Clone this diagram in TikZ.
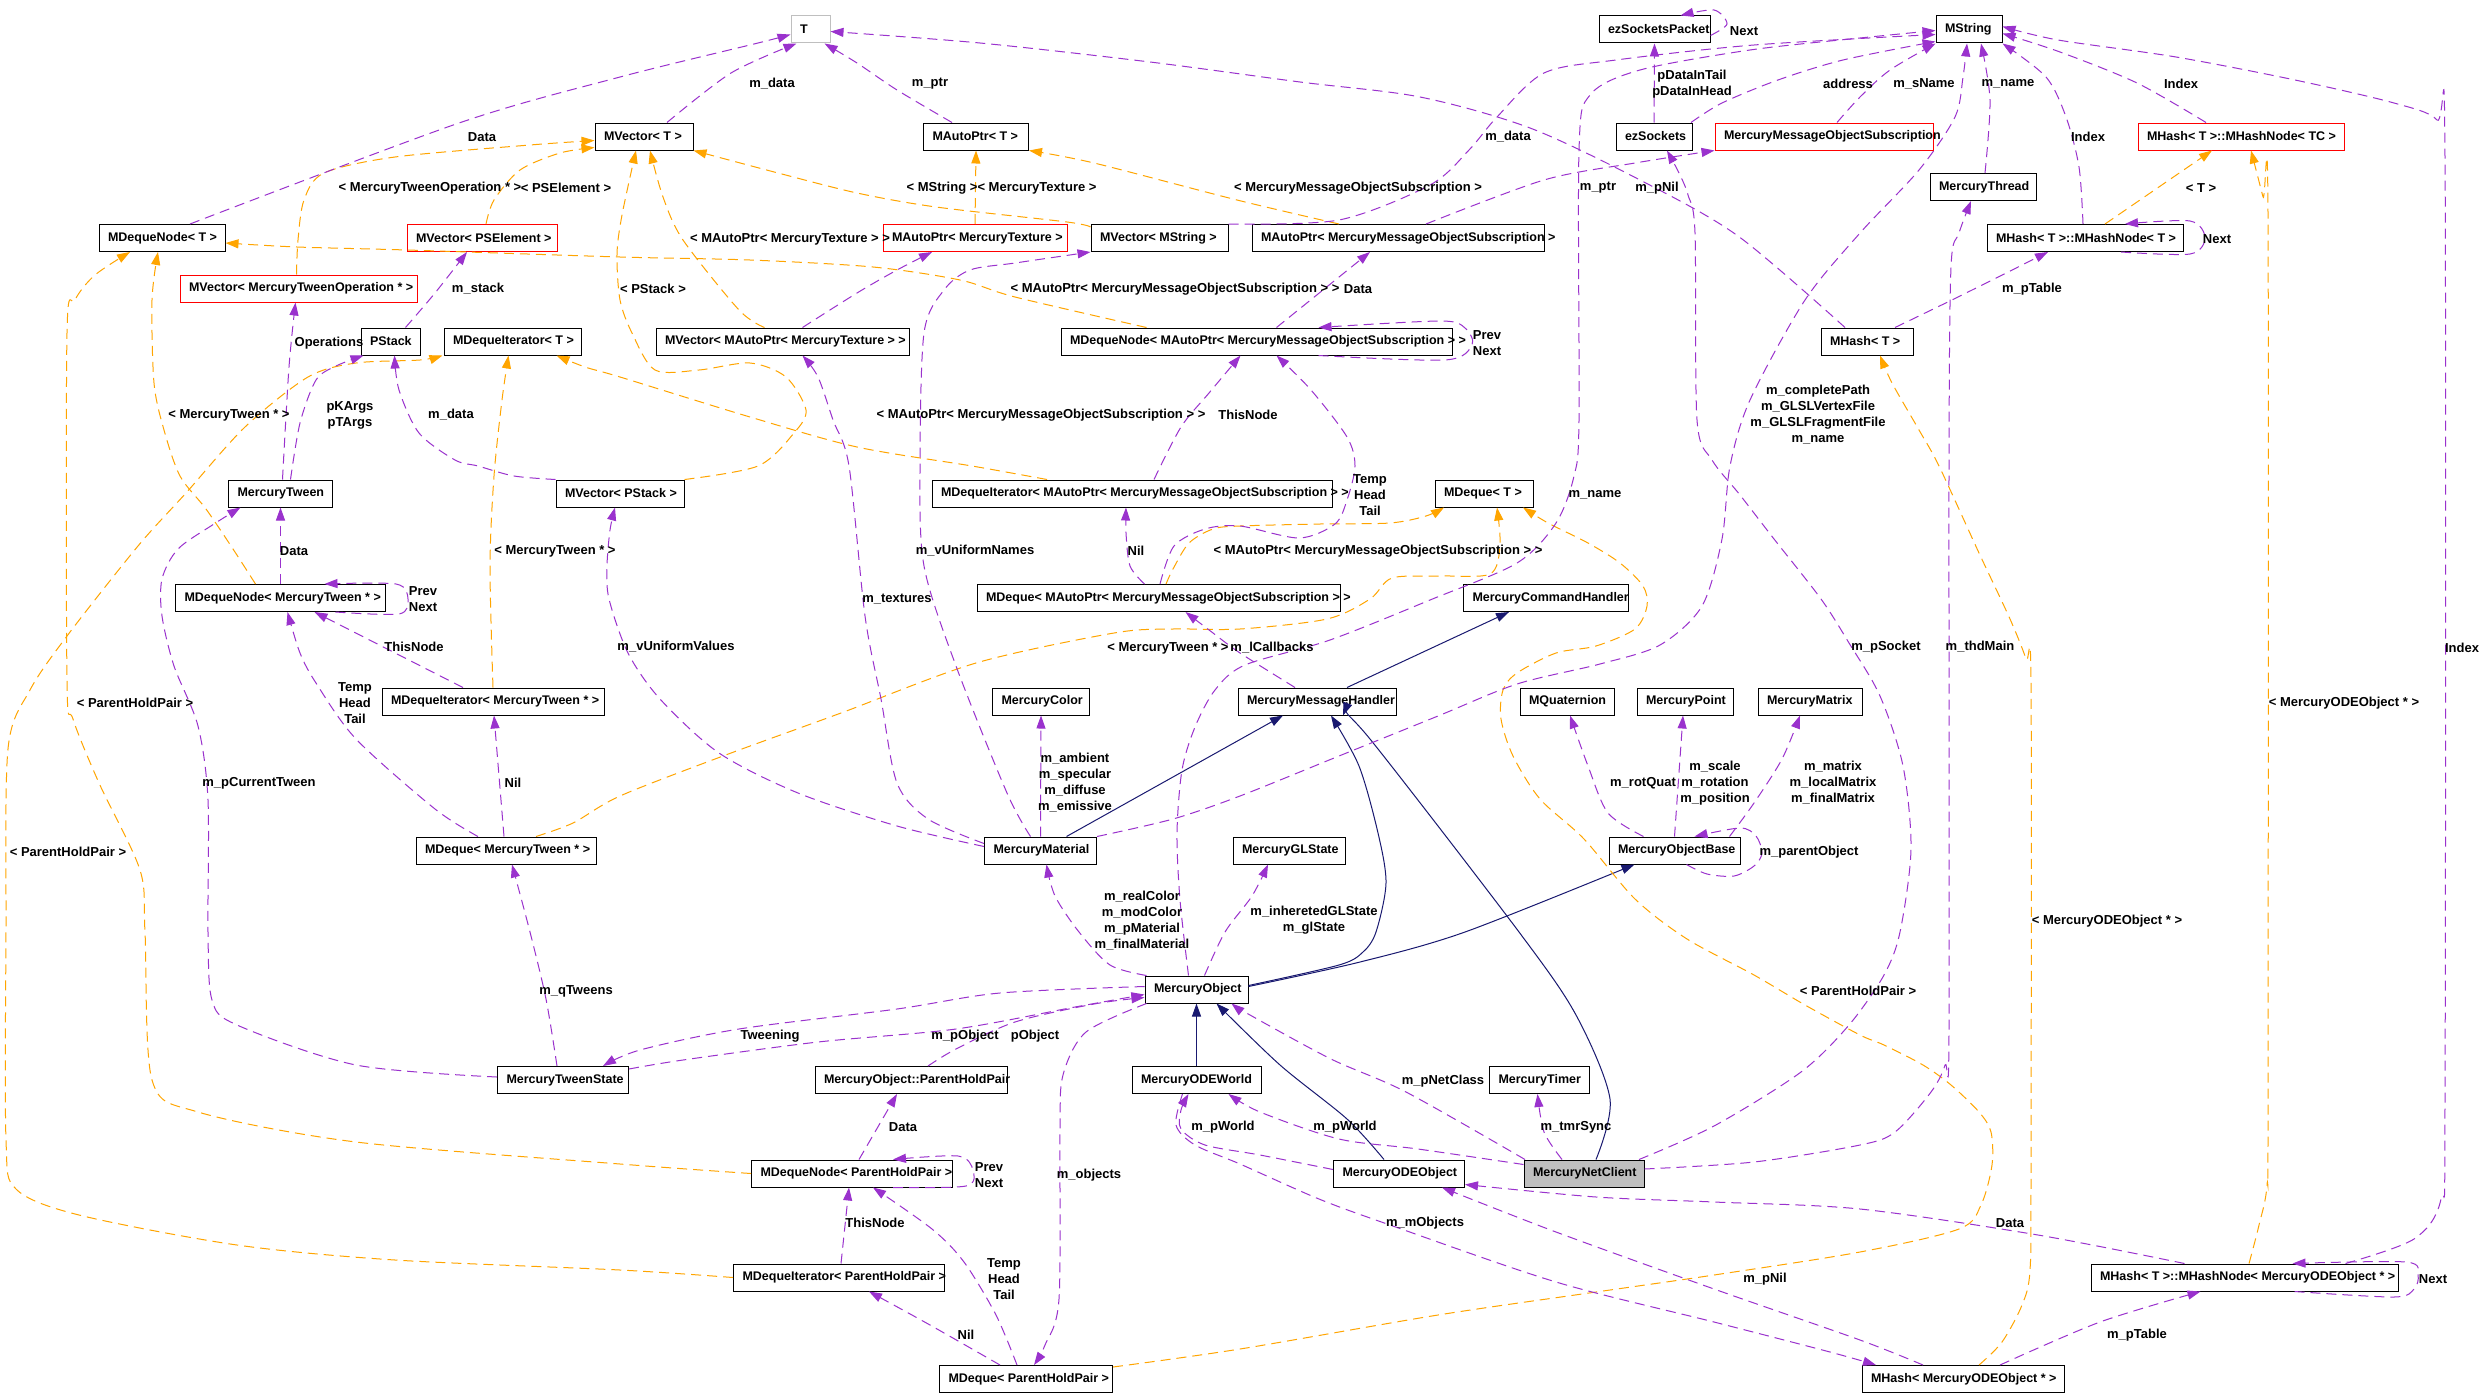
\documentclass[tikz,border=0pt]{standalone}
\usepackage{fontspec}
\setmainfont{Liberation Sans}
\usetikzlibrary{arrows.meta}
\definecolor{usecol}{HTML}{9A32CD}
\definecolor{tplcol}{HTML}{FFA500}
\definecolor{inhcol}{HTML}{191970}
\definecolor{boxgrey}{HTML}{BFBFBF}
\newcommand{\cb}[2]{\makebox[\dimexpr#1pt-18pt\relax][l]{#2}}

\begin{document}
\begin{tikzpicture}[x=1pt, y=-1pt,
  cls/.style={draw=black, line width=1pt, inner xsep=9pt, inner ysep=0pt, minimum height=27pt,
    font=\fontsize{12.5}{16}\selectfont\bfseries},
  trunc/.style={cls, draw=red},
  usage/.style={draw=usecol, line width=1pt, dash pattern=on 10pt off 6pt, -{Triangle[length=13pt,width=9pt]}},
  tpl/.style={usage, draw=tplcol},
  inh/.style={draw=inhcol, line width=1pt, -{Triangle[length=13pt,width=9pt]}},
  lbl/.style={font=\fontsize{13}{16}\selectfont\bfseries, inner sep=0pt, align=center}]
\fill[white] (0,0) rectangle (2480,1397);
\useasboundingbox (0,0) rectangle (2480,1397);

\node[cls, draw=boxgrey, minimum width=39] (nT) at (810.5,29.5) {\cb{39}{T}};
\node[cls, minimum width=66] (nMString) at (1969,29.5) {\cb{66}{MString}};
\node[cls, minimum width=111] (nPacket) at (1654.5,29.5) {\cb{111}{ezSocketsPacket}};
\node[cls, minimum width=98] (nVecT) at (644,136.5) {\cb{98}{MVector< T >}};
\node[cls, minimum width=105] (nPtrT) at (976,136.5) {\cb{105}{MAutoPtr< T >}};
\node[cls, minimum width=76] (nSockets) at (1654,136.5) {\cb{76}{ezSockets}};
\node[trunc, minimum width=218] (nMMOS) at (1824,136.5) {\cb{218}{MercuryMessageObjectSubscription}};
\node[trunc, minimum width=206] (nNodeTC) at (2241,136.5) {\cb{206}{MHash< T >::MHashNode< TC >}};
\node[cls, minimum width=106] (nThread) at (1983,187) {\cb{106}{MercuryThread}};
\node[cls, minimum width=126] (nNodeT) at (162,238) {\cb{126}{MDequeNode< T >}};
\node[trunc, minimum width=150] (nVecPSE) at (482,238) {\cb{150}{MVector< PSElement >}};
\node[trunc, minimum width=184] (nPtrTex) at (975,238) {\cb{184}{MAutoPtr< MercuryTexture >}};
\node[cls, minimum width=137] (nVecStr) at (1159.5,238) {\cb{137}{MVector< MString >}};
\node[cls, minimum width=292] (nPtrMMOS) at (1398,238) {\cb{292}{MAutoPtr< MercuryMessageObjectSubscription >}};
\node[cls, minimum width=196] (nHNodeT) at (2085,238) {\cb{196}{MHash< T >::MHashNode< T >}};
\node[trunc, minimum width=237] (nVecMTO) at (298.5,288.5) {\cb{237}{MVector< MercuryTweenOperation * >}};
\node[cls, minimum width=59] (nPStack) at (390.5,341.5) {\cb{59}{PStack}};
\node[cls, minimum width=137] (nIterT) at (512.5,341.5) {\cb{137}{MDequeIterator< T >}};
\node[cls, minimum width=253] (nVecTex) at (782.5,341.5) {\cb{253}{MVector< MAutoPtr< MercuryTexture > >}};
\node[cls, minimum width=391] (nNodeMMOS) at (1256.5,341.5) {\cb{391}{MDequeNode< MAutoPtr< MercuryMessageObjectSubscription > >}};
\node[cls, minimum width=92] (nHashT) at (1867,341.5) {\cb{92}{MHash< T >}};
\node[cls, minimum width=104] (nTween) at (280.5,493.5) {\cb{104}{MercuryTween}};
\node[cls, minimum width=128] (nVecPStack) at (620,493.5) {\cb{128}{MVector< PStack >}};
\node[cls, minimum width=400] (nIterMMOS) at (1132,493.5) {\cb{400}{MDequeIterator< MAutoPtr< MercuryMessageObjectSubscription > >}};
\node[cls, minimum width=98] (nDequeT) at (1484,493.5) {\cb{98}{MDeque< T >}};
\node[cls, minimum width=210] (nNodeTw) at (280.5,598) {\cb{210}{MDequeNode< MercuryTween * >}};
\node[cls, minimum width=363] (nDequeMMOS) at (1158.5,598) {\cb{363}{MDeque< MAutoPtr< MercuryMessageObjectSubscription > >}};
\node[cls, minimum width=165] (nCmd) at (1546,598) {\cb{165}{MercuryCommandHandler}};
\node[cls, minimum width=222] (nIterTw) at (493,701.5) {\cb{222}{MDequeIterator< MercuryTween * >}};
\node[cls, minimum width=97] (nColor) at (1041,701.5) {\cb{97}{MercuryColor}};
\node[cls, minimum width=158] (nMsgH) at (1317,701.5) {\cb{158}{MercuryMessageHandler}};
\node[cls, minimum width=94] (nQuat) at (1567,701.5) {\cb{94}{MQuaternion}};
\node[cls, minimum width=96] (nPoint) at (1685,701.5) {\cb{96}{MercuryPoint}};
\node[cls, minimum width=104] (nMatrix) at (1810,701.5) {\cb{104}{MercuryMatrix}};
\node[cls, minimum width=180] (nDequeTw) at (506,850.5) {\cb{180}{MDeque< MercuryTween * >}};
\node[cls, minimum width=112] (nMaterial) at (1040.5,850.5) {\cb{112}{MercuryMaterial}};
\node[cls, minimum width=112] (nGLState) at (1289,850.5) {\cb{112}{MercuryGLState}};
\node[cls, minimum width=131] (nObjBase) at (1674.5,850.5) {\cb{131}{MercuryObjectBase}};
\node[cls, minimum width=103] (nObject) at (1196.5,989.5) {\cb{103}{MercuryObject}};
\node[cls, minimum width=131] (nTwState) at (563,1080) {\cb{131}{MercuryTweenState}};
\node[cls, minimum width=192] (nPHP) at (911,1080) {\cb{192}{MercuryObject::ParentHoldPair}};
\node[cls, minimum width=129] (nODEWorld) at (1196.5,1080) {\cb{129}{MercuryODEWorld}};
\node[cls, minimum width=100] (nTimer) at (1539.5,1080) {\cb{100}{MercuryTimer}};
\node[cls, minimum width=201] (nNodePHP) at (852,1173.5) {\cb{201}{MDequeNode< ParentHoldPair >}};
\node[cls, minimum width=131] (nODEObj) at (1399,1173.5) {\cb{131}{MercuryODEObject}};
\node[cls, fill=boxgrey, minimum width=120] (nNetClient) at (1584,1173.5) {\cb{120}{MercuryNetClient}};
\node[cls, minimum width=211] (nIterPHP) at (839,1277.5) {\cb{211}{MDequeIterator< ParentHoldPair >}};
\node[cls, minimum width=307] (nHNodeODE) at (2244.5,1277.5) {\cb{307}{MHash< T >::MHashNode< MercuryODEObject * >}};
\node[cls, minimum width=173] (nDequePHP) at (1026,1379) {\cb{173}{MDeque< ParentHoldPair >}};
\node[cls, minimum width=202] (nHashODE) at (1963,1379) {\cb{202}{MHash< MercuryODEObject * >}};

\draw[inh] ([xshift=26]nMaterial.north) -- ([xshift=-34]nMsgH.south);
\draw[inh] ([xshift=30]nMsgH.north) -- ([xshift=-37]nCmd.south);
\draw[inh] plot[smooth] coordinates {([yshift=4]nObject.east) (1339,965) (1363,952) (1376,932) (1386,883) (1378,833) (1359,766) ([xshift=14]nMsgH.south)};
\draw[inh] plot[smooth] coordinates {([yshift=3]nObject.east) (1360,962) (1465,932) ([xshift=-40]nObjBase.south)};
\draw[inh] plot[smooth] coordinates {([xshift=12]nNetClient.north) (1610,1099) (1576,1015) (1519,932) (1370,739) ([xshift=26]nMsgH.south)};
\draw[inh] (nODEWorld.north) -- (nObject.south);
\draw[inh] plot[smooth] coordinates {([xshift=-15]nODEObj.north) (1347,1119) (1280,1065) ([xshift=20]nObject.south)};

\draw[tpl] plot[smooth] coordinates {([xshift=-2]nVecMTO.north) (298,240) (304,200) (324,173) (395,157) (530,145) ([yshift=-4]nVecT.west)};
\draw[tpl] plot[smooth] coordinates {([xshift=4]nVecPSE.north) (494,200) (520,170) (560,153) ([yshift=-11]nVecT.west)};
\draw[tpl] plot[smooth] coordinates {(nVecPStack.north east) (758,466) (794,433) (806,410) (786,377) (750,363) (699,370) (655,370) (632,333) (620,300) (617,254) (622,215) ([xshift=-8]nVecT.south)};
\draw[tpl] plot[smooth] coordinates {([xshift=-18]nVecTex.north) (739,310) (683,240) (663,197) ([xshift=6]nVecT.south)};
\draw[tpl] plot[smooth] coordinates {([yshift=-3]nVecStr.north west) (1067,222) (936,207) (857,193) (778,173) (nVecT.south east)};
\draw[tpl] (nPtrTex.north) -- (nPtrT.south);
\draw[tpl] plot[smooth] coordinates {([xshift=-59]nPtrMMOS.north) (1237,200) (1094,163) (nPtrT.south east)};
\draw[tpl] plot[smooth] coordinates {([xshift=-110]nNodeMMOS.north) (1015,297) (960,280) (873,267) (750,260) (620,257) (407,250) (297,247) ([yshift=-5]nNodeT.east)};
\draw[tpl] plot[smooth] coordinates {([xshift=-25]nNodeTw.north) (233,549) (206,509) (180,476) (164,430) (154,383) (152,300) ([xshift=-4]nNodeT.south)};
\draw[tpl] plot[smooth] coordinates {(nNodePHP.west) (620,1164) (356,1142) (198,1112) (152,1080) (145,932) (140,870) (99,783) (73,719) (67,680) (67,333) (75,300) (95,275) ([xshift=-32]nNodeT.south)};
\draw[tpl] plot[smooth] coordinates {(nIterPHP.west) (620,1270) (395,1260) (237,1245) (79,1215) (16,1189) (6,1140) (6,932) (8,749) (30,690) (67,636) (138,546) (186,493) (245,427) (308,377) (356,363) (420,360) ([xshift=-70]nIterT.south)};
\draw[tpl] plot[smooth] coordinates {(nIterTw.north) (490,566) (494,476) (502,400) ([xshift=-4]nIterT.south)};
\draw[tpl] plot[smooth] coordinates {([xshift=-85]nIterMMOS.north) (972,466) (857,447) (750,417) (620,377) (585,367) ([xshift=44]nIterT.south)};
\draw[tpl] plot[smooth] coordinates {([xshift=30]nDequeTw.north) (573,823) (620,796) (723,756) (841,713) (976,663) (1114,633) (1173,629) (1240,629) (1327,619) (1370,599) (1392,578) (1440,576) (1490,574) (1500,546) ([xshift=13]nDequeT.south)};
\draw[tpl] plot[smooth] coordinates {([xshift=7.5]nDequeMMOS.north) (1173,569) (1189,543) (1213,529) (1240,526) (1320,524) (1390,523) (1426,516) ([xshift=-40]nDequeT.south)};
\draw[tpl] plot[smooth] coordinates {([yshift=12]nDequePHP.east) (1240,1349) (1438,1315) (1596,1292) (1714,1275) (1860,1252) (1959,1229) (1981,1205) (1992,1165) (1991,1132) (1979,1112) (1951,1085) (1923,1065) (1884,1045) (1860,1035) (1805,1005) (1754,975) (1687,939) (1635,899) (1584,839) (1540,799) (1513,756) (1501,719) (1503,690) (1517,673) (1556,653) (1596,646) (1635,629) (1647,606) (1643,586) (1620,563) (1588,543) (1548,523) ([xshift=39]nDequeT.south)};
\draw[tpl] plot[smooth] coordinates {([xshift=16]nHashODE.north) (2002,1342) (2022,1305) (2030,1270) (2031,1165) (2031,683) (2026,659) (2010,619) (1979,553) (1939,466) (1919,430) (1892,383) ([xshift=13]nHashT.south)};
\draw[tpl] plot[smooth] coordinates {([xshift=4.5]nHNodeODE.north) (2259,1225) (2267,1185) (2268,1100) (2268,217) (2263,197) ([xshift=10]nNodeTC.south)};
\draw[tpl] ([xshift=20]nHNodeT.north) -- ([xshift=-29]nNodeTC.south);

\draw[usage] plot[smooth] coordinates {([xshift=28]nNodeT.north) (459,123) (620,77) (758,43) ([yshift=-5]nT.west)};
\draw[usage] plot[smooth] coordinates {([xshift=23]nVecT.north) (731,73) ([xshift=-14]nT.south)};
\draw[usage] plot[smooth] coordinates {([xshift=-24]nPtrT.north) (897,90) (857,63) ([xshift=14]nT.south)};
\draw[usage] plot[smooth] coordinates {([xshift=-22]nHashT.north) (1738,236) (1640,180) (1530,128) (1420,97) (1300,82) (1150,62) (980,43) ([yshift=-2]nT.east)};
\draw[usage] plot[smooth] coordinates {([yshift=-6]nPacket.east) (1727,24) (1714,10) ([xshift=26]nPacket.north)};
\draw[usage] (nSockets.north) -- (nPacket.south);
\draw[usage] plot[smooth] coordinates {([xshift=37]nSockets.north) (1722,103) (1778,80) (1843,60) ([yshift=-12]nMString.west)};
\draw[usage] plot[smooth] coordinates {([xshift=13]nMMOS.north) (1860,97) (1890,70) (nMString.south west)};
\draw[usage] plot[smooth] coordinates {(nVecStr.north east) (1339,220) (1430,185) (1469,150) (1497,117) (1544,73) (1616,60) (1754,45) ([yshift=-5]nMString.west)};
\draw[usage] plot[smooth] coordinates {([xshift=-8]nObject.north) (1180,900) (1177,833) (1182,770) (1195,727) (1215,690) (1245,665) (1330,640) (1430,600) (1517,563) (1556,523) (1574,476) (1579,420) (1579,150) (1590,95) (1640,70) (1750,50) (1860,38) ([yshift=-1]nMString.west)};
\draw[usage] plot[smooth] coordinates {(nMaterial.north east) (1173,819) (1240,796) (1339,756) (1438,716) (1517,684) (1600,664) (1660,645) (1702,606) (1722,539) (1730,466) (1750,400) (1805,300) (1860,233) (1919,170) (1955,117) (1963,77) ([xshift=-2]nMString.south)};
\draw[usage] plot[smooth] coordinates {([xshift=2]nThread.north) (1990,100) ([xshift=12]nMString.south)};
\draw[usage] plot[smooth] coordinates {([xshift=-2]nHNodeT.north) (2079,167) (2066,117) (2046,77) (nMString.south east)};
\draw[usage] plot[smooth] coordinates {([xshift=-35]nNodeTC.north) (2137,83) (2060,52) ([yshift=-4]nMString.east)};
\draw[usage] plot[smooth] coordinates {([xshift=101]nHNodeODE.north) (2414,1239) (2441,1199) (2445,1100) (2445,160) (2437,120) (2394,103) (2295,80) (2176,57) (2058,40) ([yshift=3]nMString.east)};
\draw[usage] plot[smooth] coordinates {([xshift=28]nHashT.north) (1960,296) ([xshift=-37]nHNodeT.south)};
\draw[usage] plot[smooth] coordinates {([xshift=36]nHNodeT.south) (2190,254) (2205,238) (2190,221) ([xshift=40]nHNodeT.north)};
\draw[usage] plot[smooth] coordinates {([xshift=28]nPtrMMOS.north) (1544,180) (1635,163) (nMMOS.south west)};
\draw[usage] ([xshift=20]nNodeMMOS.north) -- ([xshift=-28]nPtrMMOS.south);
\draw[usage] plot[smooth] coordinates {([xshift=62]nNodeMMOS.south) (1445,360) (1472,345) (1465,328) (1440,321) ([xshift=62]nNodeMMOS.north)};
\draw[usage] plot[smooth] coordinates {([xshift=22]nIterMMOS.north) (1181,427) (1209,393) ([xshift=-16]nNodeMMOS.south)};
\draw[usage] plot[smooth] coordinates {([xshift=1.5]nDequeMMOS.north) (1174,546) (1205,529) (1240,526) (1299,538) (1335,524) (1347,500) (1355,466) (1347,437) (1311,390) ([xshift=20]nNodeMMOS.south)};
\draw[usage] plot[smooth] coordinates {([xshift=-14]nDequeMMOS.north) (1130,566) (1126,533) ([xshift=-6]nIterMMOS.south)};
\draw[usage] plot[smooth] coordinates {([xshift=-22]nMsgH.north) (1240,653) (1213,633) ([xshift=27]nDequeMMOS.south)};
\draw[usage] plot[smooth] coordinates {([xshift=20]nVecTex.north) (857,293) (897,270) ([xshift=-43]nPtrTex.south)};
\draw[usage] plot[smooth] coordinates {([yshift=7]nMaterial.west) (928,819) (897,783) (881,699) (865,616) (849,466) (833,420) (818,377) ([xshift=20]nVecTex.south)};
\draw[usage] plot[smooth] coordinates {([xshift=-10]nMaterial.north) (1007,793) (956,666) (924,566) (920,466) (924,333) (944,290) (970,270) (1015,263) (nVecStr.south west)};
\draw[usage] plot[smooth] coordinates {([yshift=4]nMaterial.west) (897,826) (798,793) (719,753) (660,699) (628,653) (609,599) (607,566) (610,530) ([xshift=-5]nVecPStack.south)};
\draw[usage] (nMaterial.north) -- (nColor.south);
\draw[usage] plot[smooth] coordinates {([xshift=-50]nObject.north) (1110,965) (1079,932) (1055,896) ([xshift=6]nMaterial.south)};
\draw[usage] plot[smooth] coordinates {([xshift=8]nObject.north) (1225,932) (1252,896) ([xshift=-21]nGLState.south)};
\draw[usage] plot[smooth] coordinates {([xshift=-50]nObject.south) (1086,1032) (1063,1075) (1060,1130) (1059,1299) (1045,1345) ([xshift=8]nDequePHP.north)};
\draw[usage] plot[smooth] coordinates {([yshift=11]nTwState.east) (683,1060) (818,1042) (956,1029) (1075,1007) ([yshift=-5]nObject.west)};
\draw[usage] plot[smooth] coordinates {([yshift=3]nObject.west) (1000,993) (897,1009) (739,1029) (640,1050) ([xshift=40]nTwState.north)};
\draw[usage] plot[smooth] coordinates {([xshift=17]nPHP.north) (956,1049) (1015,1022) (1094,1004) ([yshift=-8]nObject.west)};
\draw[usage] plot[smooth] coordinates {([yshift=3]nTwState.west) (356,1065) (237,1025) (212,1000) (208,932) (208,800) (198,726) (174,666) (162,616) (162,579) (178,549) (214,524) ([xshift=-40]nTween.south)};
\draw[usage] plot[smooth] coordinates {([xshift=-6]nTwState.north) (546,999) (530,932) ([xshift=6]nDequeTw.south)};
\draw[usage] plot[smooth] coordinates {([xshift=2]nTween.north) (289,367) ([xshift=-3]nVecMTO.south)};
\draw[usage] plot[smooth] coordinates {([xshift=10]nTween.north) (300,423) (316,380) (336,366) ([xshift=-27]nPStack.south)};
\draw[usage] plot[smooth] coordinates {(nVecPStack.north west) (514,476) (478,466) (455,460) (419,433) (399,390) ([xshift=4]nPStack.south)};
\draw[usage] plot[smooth] coordinates {([xshift=15]nPStack.north) (435,293) ([xshift=-15]nVecPSE.south)};
\draw[usage] (nNodeTw.north) -- (nTween.south);
\draw[usage] plot[smooth] coordinates {([xshift=55]nNodeTw.south) (399,614) (408,599) (396,584) ([xshift=44]nNodeTw.north)};
\draw[usage] ([xshift=-30]nIterTw.north) -- ([xshift=34]nNodeTw.south);
\draw[usage] plot[smooth] coordinates {([xshift=-28]nDequeTw.north) (435,809) (356,739) (316,683) (300,653) ([xshift=7]nNodeTw.south)};
\draw[usage] ([xshift=-2]nDequeTw.north) -- ([xshift=1]nIterTw.south);
\draw[usage] ([xshift=7]nNodePHP.north) -- ([xshift=-14]nPHP.south);
\draw[usage] plot[smooth] coordinates {([xshift=41]nNodePHP.south) (966,1186) (973,1170) (958,1156) ([xshift=41]nNodePHP.north)};
\draw[usage] ([xshift=2]nIterPHP.north) -- ([xshift=-3]nNodePHP.south);
\draw[usage] plot[smooth] coordinates {([xshift=-9]nDequePHP.north) (996,1315) (964,1262) (932,1229) ([xshift=21]nNodePHP.south)};
\draw[usage] plot[smooth] coordinates {([xshift=-26]nDequePHP.north) (930,1325) ([xshift=30]nIterPHP.south)};
\draw[usage] plot[smooth] coordinates {([yshift=4]nODEObj.west) (1260,1155) (1205,1145) (1181,1129) (1181,1110) ([xshift=-8]nODEWorld.south)};
\draw[usage] plot[smooth] coordinates {([yshift=9]nNetClient.west) (1418,1149) (1339,1139) (1260,1112) ([xshift=32]nODEWorld.south)};
\draw[usage] plot[smooth] coordinates {([xshift=-14]nODEWorld.south) (1176,1125) (1195,1145) (1240,1164) (1319,1199) (1390,1225) (1556,1282) (1714,1322) (1830,1352) ([xshift=-87]nHashODE.north)};
\draw[usage] plot[smooth] coordinates {([xshift=-60]nHNodeODE.north) (2038,1235) (1860,1209) (1714,1202) (1596,1197) ([yshift=-11]nODEObj.east)};
\draw[usage] plot[smooth] coordinates {([xshift=37]nHashODE.north) (2100,1322) ([xshift=-44]nHNodeODE.south)};
\draw[usage] plot[smooth] coordinates {([xshift=-40]nHashODE.north) (1860,1340) (1714,1289) (1556,1232) ([xshift=43]nODEObj.south)};
\draw[usage] plot[smooth] coordinates {([xshift=50]nHNodeODE.south) (2394,1297) (2414,1289) (2418,1275) (2406,1262) ([xshift=48]nHNodeODE.north)};
\draw[usage] plot[smooth] coordinates {([xshift=12]nObjBase.south) (1707,874) (1734,876) (1754,866) (1762,853) (1756,836) (1740,828) ([xshift=20]nObjBase.north)};
\draw[usage] plot[smooth] coordinates {([xshift=-31]nObjBase.north) (1608,813) (1588,766) ([xshift=3]nQuat.south)};
\draw[usage] (nObjBase.north) -- ([xshift=-2]nPoint.south);
\draw[usage] plot[smooth] coordinates {([xshift=55]nObjBase.north) (1754,803) (1782,759) ([xshift=-10]nMatrix.south)};
\draw[usage] plot[smooth] coordinates {([xshift=-22]nNetClient.north) (1544,1132) ([xshift=-2]nTimer.south)};
\draw[usage] plot[smooth] coordinates {([xshift=-59]nNetClient.north) (1406,1092) (1331,1059) (1250,1015) ([xshift=35]nObject.south)};
\draw[usage] plot[smooth] coordinates {([xshift=55]nNetClient.north) (1714,1126) (1801,1072) (1849,1025) (1884,975) (1900,932) (1911,849) (1903,766) (1880,696) (1849,643) (1821,599) (1774,539) (1740,495) (1712,460) (1697,420) (1695,233) (1688,195) (1679,173) ([xshift=13]nSockets.south)};
\draw[usage] plot[smooth] coordinates {([yshift=4.5]nNetClient.east) (1754,1162) (1860,1145) (1895,1132) (1931,1092) (1945,1065) (1949,1032) (1949,466) (1951,267) (1959,233) ([xshift=-12]nThread.south)};

\node[lbl] (l1) at (482,137) {Data};
\node[lbl] (l2) at (772,84) {m\_data};
\node[lbl] (l3) at (930,84) {m\_ptr};
\node[lbl] (l4) at (1657,188) {m\_pNil};
\node[lbl] (l5) at (430,188) {< MercuryTweenOperation * >};
\node[lbl] (l6) at (566,188) {< PSElement >};
\node[lbl] (l7) at (653,289) {< PStack >};
\node[lbl] (l8) at (790,239) {< MAutoPtr< MercuryTexture > >};
\node[lbl] (l9) at (942,188) {< MString >};
\node[lbl] (l10) at (1037,188) {< MercuryTexture >};
\node[lbl] (l11) at (1358,188) {< MercuryMessageObjectSubscription >};
\node[lbl] (l12) at (1175,289) {< MAutoPtr< MercuryMessageObjectSubscription > >};
\node[lbl] (l13) at (1358,289) {Data};
\node[lbl] (l14) at (1041,415) {< MAutoPtr< MercuryMessageObjectSubscription > >};
\node[lbl] (l15) at (1248,415) {ThisNode};
\node[lbl] (l16) at (1508,137) {m\_data};
\node[lbl] (l17) at (1692,84) {pDataInTail\\pDataInHead};
\node[lbl] (l18) at (1744,31) {Next};
\node[lbl] (l19) at (1848,84) {address};
\node[lbl] (l20) at (1924,84) {m\_sName};
\node[lbl] (l21) at (2008,84) {m\_name};
\node[lbl] (l22) at (2181,84) {Index};
\node[lbl] (l23) at (2088,137) {Index};
\node[lbl] (l24) at (1598,188) {m\_ptr};
\node[lbl] (l25) at (2201,188) {< T >};
\node[lbl] (l26) at (2217,239) {Next};
\node[lbl] (l27) at (2032,289) {m\_pTable};
\node[lbl] (l28) at (1487,343) {Prev\\Next};
\node[lbl] (l29) at (1818,415) {m\_completePath\\m\_GLSLVertexFile\\m\_GLSLFragmentFile\\m\_name};
\node[lbl] (l30) at (329,343) {Operations};
\node[lbl] (l31) at (478,289) {m\_stack};
\node[lbl] (l32) at (229,415) {< MercuryTween * >};
\node[lbl] (l33) at (350,415) {pKArgs\\pTArgs};
\node[lbl] (l34) at (451,415) {m\_data};
\node[lbl] (l35) at (294,551) {Data};
\node[lbl] (l36) at (555,551) {< MercuryTween * >};
\node[lbl] (l37) at (975,551) {m\_vUniformNames};
\node[lbl] (l38) at (1136,551) {Nil};
\node[lbl] (l39) at (1378,551) {< MAutoPtr< MercuryMessageObjectSubscription > >};
\node[lbl] (l40) at (1370,495) {Temp\\Head\\Tail};
\node[lbl] (l41) at (1595,495) {m\_name};
\node[lbl] (l42) at (897,599) {m\_textures};
\node[lbl] (l43) at (423,599) {Prev\\Next};
\node[lbl] (l44) at (414,647) {ThisNode};
\node[lbl] (l45) at (676,647) {m\_vUniformValues};
\node[lbl] (l46) at (1168,648) {< MercuryTween * >};
\node[lbl] (l47) at (1272,648) {m\_lCallbacks};
\node[lbl] (l48) at (1886,647) {m\_pSocket};
\node[lbl] (l49) at (1980,647) {m\_thdMain};
\node[lbl] (l50) at (2462,648) {Index};
\node[lbl] (l51) at (355,703) {Temp\\Head\\Tail};
\node[lbl] (l52) at (135,703) {< ParentHoldPair >};
\node[lbl] (l53) at (2344,703) {< MercuryODEObject * >};
\node[lbl] (l54) at (1075,783) {m\_ambient\\m\_specular\\m\_diffuse\\m\_emissive};
\node[lbl] (l55) at (259,783) {m\_pCurrentTween};
\node[lbl] (l56) at (513,783) {Nil};
\node[lbl] (l57) at (1643,783) {m\_rotQuat};
\node[lbl] (l58) at (1715,783) {m\_scale\\m\_rotation\\m\_position};
\node[lbl] (l59) at (1833,783) {m\_matrix\\m\_localMatrix\\m\_finalMatrix};
\node[lbl] (l60) at (68,852) {< ParentHoldPair >};
\node[lbl] (l61) at (1809,852) {m\_parentObject};
\node[lbl] (l62) at (1142,921) {m\_realColor\\m\_modColor\\m\_pMaterial\\m\_finalMaterial};
\node[lbl] (l63) at (1314,920) {m\_inheretedGLState\\m\_glState};
\node[lbl] (l64) at (2107,921) {< MercuryODEObject * >};
\node[lbl] (l65) at (576,991) {m\_qTweens};
\node[lbl] (l66) at (1858,991) {< ParentHoldPair >};
\node[lbl] (l67) at (770,1036) {Tweening};
\node[lbl] (l68) at (965,1036) {m\_pObject};
\node[lbl] (l69) at (1035,1036) {pObject};
\node[lbl] (l70) at (1443,1081) {m\_pNetClass};
\node[lbl] (l71) at (903,1127) {Data};
\node[lbl] (l72) at (1223,1127) {m\_pWorld};
\node[lbl] (l73) at (1345,1127) {m\_pWorld};
\node[lbl] (l74) at (1576,1127) {m\_tmrSync};
\node[lbl] (l75) at (989,1175) {Prev\\Next};
\node[lbl] (l76) at (1089,1175) {m\_objects};
\node[lbl] (l77) at (875,1223) {ThisNode};
\node[lbl] (l78) at (1425,1223) {m\_mObjects};
\node[lbl] (l79) at (2010,1223) {Data};
\node[lbl] (l80) at (1004,1279) {Temp\\Head\\Tail};
\node[lbl] (l81) at (1765,1279) {m\_pNil};
\node[lbl] (l82) at (2433,1279) {Next};
\node[lbl] (l83) at (966,1335) {Nil};
\node[lbl] (l84) at (2137,1335) {m\_pTable};
\end{tikzpicture}
\end{document}
